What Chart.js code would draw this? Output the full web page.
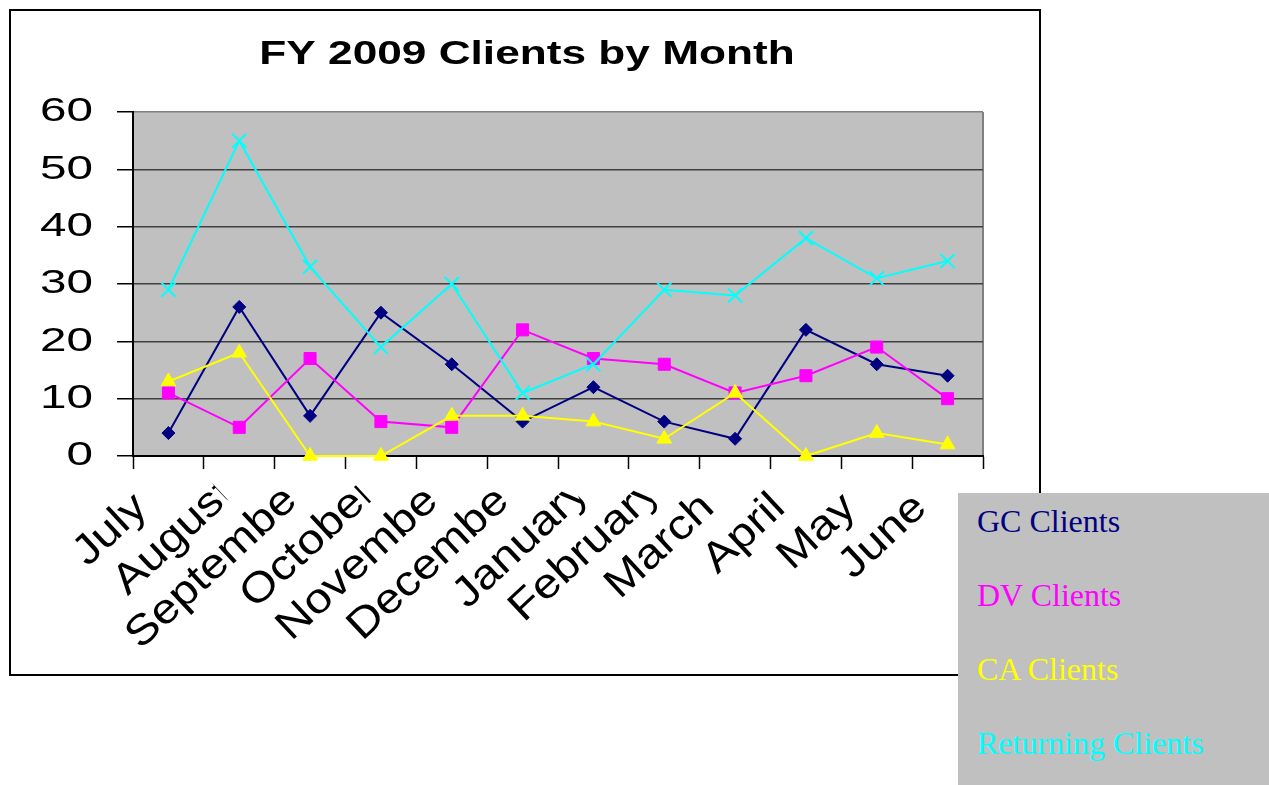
<!DOCTYPE html>
<html>
<head>
<meta charset="utf-8">
<script src="https://cdn.jsdelivr.net/npm/chart.js@4.4.1/dist/chart.umd.min.js"></script>
<style>
  html, body { margin: 0; padding: 0; background: #fff; }
  #frame { position: absolute; left: 9px; top: 9px; width: 1032px; height: 667px; box-sizing: border-box; border: 2px solid #000; }
  #wrap { position: absolute; left: 0; top: 0; width: 1269px; height: 785px; }
  #legend { position: absolute; left: 958px; top: 493px; width: 311px; height: 292px; background: #c0c0c0;
            font-family: "Liberation Serif", "Times New Roman", serif; font-size: 32px; }
  #legend div { position: absolute; left: 19px; line-height: 32px; white-space: nowrap; }
</style>
</head>
<body>
<div id="frame"></div>
<div id="wrap"><canvas id="chart"></canvas></div>
<div id="legend"></div>
<script>
// FY 2009 clients by month
const months = ['July', 'August', 'September', 'October', 'November', 'December',
                'January', 'February', 'March', 'April', 'May', 'June'];
const gcClients = [4, 26, 7, 25, 16, 6, 12, 6, 3, 22, 16, 14];
const dvClients = [11, 5, 17, 6, 5, 22, 17, 16, 11, 14, 19, 10];
const caClients = [13, 18, 0, 0, 7, 7, 6, 3, 11, 0, 4, 2];
const returningClients = [29, 55, 33, 19, 30, 11, 16, 29, 28, 38, 31, 34];
const yTicks = [0, 10, 20, 30, 40, 50, 60];
const seriesNames = ['GC Clients', 'DV Clients', 'CA Clients', 'Returning Clients'];
const seriesColors = ['#000080', '#ff00ff', '#ffff00', '#00ffff'];

const SANS = '"Liberation Sans", Arial, sans-serif';
const STRETCH = 1.3; // the original picture is widened, text included

// legend box sits outside the chart frame, bottom right
const legend = document.getElementById('legend');
seriesNames.forEach((name, i) => {
  const d = document.createElement('div');
  d.textContent = name;
  d.style.color = seriesColors[i];
  d.style.top = (12 + i * 74) + 'px';
  legend.appendChild(d);
});

const plotBg = {
  id: 'plotBg',
  beforeDraw(chart) {
    const { ctx, chartArea: a } = chart;
    ctx.save();
    ctx.fillStyle = '#c0c0c0';
    ctx.fillRect(a.left, a.top, a.right - a.left, a.bottom - a.top);
    ctx.strokeStyle = '#808080';
    ctx.lineWidth = 2;
    ctx.beginPath();
    ctx.moveTo(a.right, a.top);
    ctx.lineTo(a.right, a.bottom);
    ctx.stroke();
    ctx.restore();
  }
};

const texts = {
  id: 'texts',
  afterDraw(chart) {
    const { ctx } = chart;
    const x = chart.scales.x, y = chart.scales.y;
    ctx.save();
    ctx.fillStyle = '#000';

    // title
    ctx.save();
    ctx.font = 'bold 34px ' + SANS;
    ctx.textAlign = 'center';
    ctx.textBaseline = 'alphabetic';
    ctx.translate(527, 64);
    ctx.scale(STRETCH, 1);
    ctx.fillText('FY 2009 Clients by Month', 0, 0);
    ctx.restore();

    // y labels
    ctx.font = '34px ' + SANS;
    ctx.textAlign = 'right';
    ctx.textBaseline = 'middle';
    yTicks.forEach(v => {
      ctx.save();
      ctx.translate(93, y.getPixelForValue(v));
      ctx.scale(1.4, 1);
      ctx.fillText(String(v), 0, 0);
      ctx.restore();
    });

    // x labels: slanted, long ones cut at the end
    const fs = 42;
    ctx.font = fs + 'px ' + SANS;
    ctx.textAlign = 'left';
    ctx.textBaseline = 'alphabetic';
    months.forEach((m, i) => {
      const cx = x.getPixelForValue(i);
      const w = ctx.measureText(m).width;
      const cut = w > 3 * fs;
      const end = cut ? 11 : 0;
      const vis = cut ? w * 0.94 : w;
      ctx.save();
      ctx.translate(cx - 19, 510);
      ctx.rotate(-43 * Math.PI / 180);
      ctx.scale(1.13, 1);
      ctx.beginPath();
      ctx.rect(-400, -80, 400 + end, 160);
      ctx.clip();
      ctx.fillText(m, end - vis, 0);
      ctx.restore();
    });
    ctx.restore();
  }
};

const mkSet = (i, data, style, radius, order) => ({
  label: seriesNames[i],
  data,
  borderColor: seriesColors[i],
  backgroundColor: seriesColors[i],
  pointBackgroundColor: seriesColors[i],
  pointBorderColor: seriesColors[i],
  borderWidth: 2,
  pointBorderWidth: style === 'crossRot' ? 2 : 1,
  pointStyle: style,
  pointRadius: radius,
  tension: 0,
  clip: false,
  order
});

new Chart(document.getElementById('chart'), {
  type: 'line',
  data: {
    labels: months,
    datasets: [
      mkSet(0, gcClients, 'rectRot', 6.5, 4),
      mkSet(1, dvClients, 'rect', 8.5, 3),
      mkSet(2, caClients, 'triangle', 8.5, 2),
      mkSet(3, returningClients, 'crossRot', 10, 1)
    ]
  },
  options: {
    responsive: true,
    maintainAspectRatio: false,
    animation: false,
    events: [],
    layout: { padding: { left: 0, top: 112, right: 286, bottom: 0 } },
    plugins: { legend: { display: false }, tooltip: { enabled: false }, title: { display: false } },
    scales: {
      x: {
        type: 'category',
        offset: true,
        ticks: { display: false },
        grid: { display: true, offset: true, drawOnChartArea: false, tickLength: 13, tickColor: '#000', tickWidth: 1.5 },
        border: { color: '#000', width: 2 },
        afterFit: s => { s.height = 785 - 456; }
      },
      y: {
        min: 0,
        max: 60,
        ticks: { display: false, stepSize: 10 },
        grid: {
          color: c => c.tick && c.tick.value === 60 ? '#808080' : '#404040',
          lineWidth: 1.5,
          tickLength: 16,
          tickColor: '#000',
          tickWidth: 1.5
        },
        border: { color: '#000', width: 2 },
        afterFit: s => { s.width = 133; }
      }
    }
  },
  plugins: [plotBg, texts]
});
</script>
</body>
</html>
